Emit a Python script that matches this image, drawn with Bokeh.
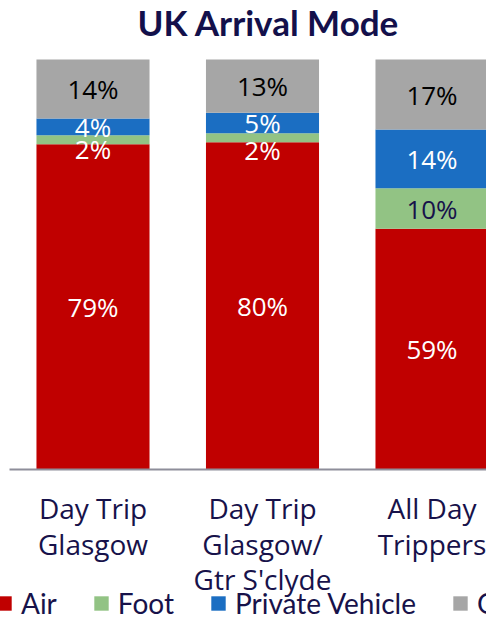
from bokeh.plotting import figure
from bokeh.models import ColumnDataSource, Range1d, FixedTicker, Label, Legend, LegendItem
from bokeh.core.properties import value
from bokeh.embed import file_html
from bokeh.resources import INLINE

# ---- data ----
categories = ["Day Trip\nGlasgow", "Day Trip\nGlasgow/\nGtr S'clyde", "All Day\nTrippers"]
modes = ["Air", "Foot", "Private Vehicle", "Other"]
air = [79.3, 79.8, 58.7]
foot = [2.2, 2.2, 9.9]
private_vehicle = [4.1, 5.0, 14.3]
other = [14.4, 13.0, 17.1]

colors = ["#C00000", "#92C384", "#1B6EC2", "#A6A6A6"]
navy = "#17124A"
FONT = "Open Sans"

xs = list(range(len(categories)))
series = [air, foot, private_vehicle, other]

source = ColumnDataSource({"x": xs, **{m: s for m, s in zip(modes, series)}})

# frame covers whole canvas; 100% == 410 px, zero line at y=469 px
p = figure(width=486, height=620,
           x_range=Range1d(-0.5457, 2.3215), y_range=Range1d(-36.83, 114.39),
           output_backend="svg", toolbar_location=None, title=None,
           y_axis_location=None, min_border=0)

bars = p.vbar_stack(modes, x="x", width=0.667, color=colors, source=source,
                    line_width=0)

# ---- data labels ----
foot_shift = [9, 12, 0]
lx, ly, lt, lc, lo = [], [], [], [], []
for i in xs:
    cum = 0.0
    for k, s in enumerate(series):
        v = s[i]
        lx.append(i)
        ly.append(cum + v / 2)
        lt.append(f"{round(v)}%")
        off = 0
        if k == 0:
            col = "white"
        elif k == 1:
            off = foot_shift[i]
            col = "white" if off else navy
        elif k == 2:
            col = "white"
        else:
            col = "black"
        lc.append(col)
        lo.append(off)
        cum += v

lsrc = ColumnDataSource(dict(x=lx, y=ly, text=lt, color=lc, off=lo))
p.text(x="x", y="y", text="text", source=lsrc, text_color="color",
       y_offset="off", text_align="center", text_baseline="middle",
       text_font=value(FONT), text_font_size="26px")

# ---- axes ----
ax = p.xaxis[0]
ax.fixed_location = 0
ax.bounds = (-0.4897, 2.3215)
ax.ticker = FixedTicker(ticks=xs)
ax.major_label_overrides = {i: c for i, c in zip(xs, categories)}
ax.major_tick_line_color = None
ax.minor_tick_line_color = None
ax.axis_line_color = "#8E8E9A"
ax.axis_line_width = 2
ax.major_label_text_font = FONT
ax.major_label_text_font_size = "28px"
ax.major_label_text_color = navy
ax.major_label_standoff = 14
ax.major_label_text_line_height = 0.93

p.xgrid.visible = False
p.ygrid.visible = False
p.outline_line_color = None

# ---- title ----
p.add_layout(Label(x=268, y=599, x_units="screen", y_units="screen",
                   text="UK Arrival Mode", text_font="Lato",
                   text_font_style="bold", text_font_size="35px",
                   text_color="#13104B", text_align="center",
                   text_baseline="alphabetic"))

# ---- legend ----
lg = Legend(items=[LegendItem(label=m, renderers=[r]) for m, r in zip(modes, bars)],
            location=(-5, 0), orientation="horizontal",
            label_text_font="Lato", label_text_font_size="28px",
            label_text_color=navy, glyph_width=18, glyph_height=18,
            label_standoff=8, spacing=35, padding=0, margin=0,
            border_line_color=None, background_fill_alpha=0)
p.add_layout(lg, "center")

open("out.html", "w").write(file_html(p, INLINE))
